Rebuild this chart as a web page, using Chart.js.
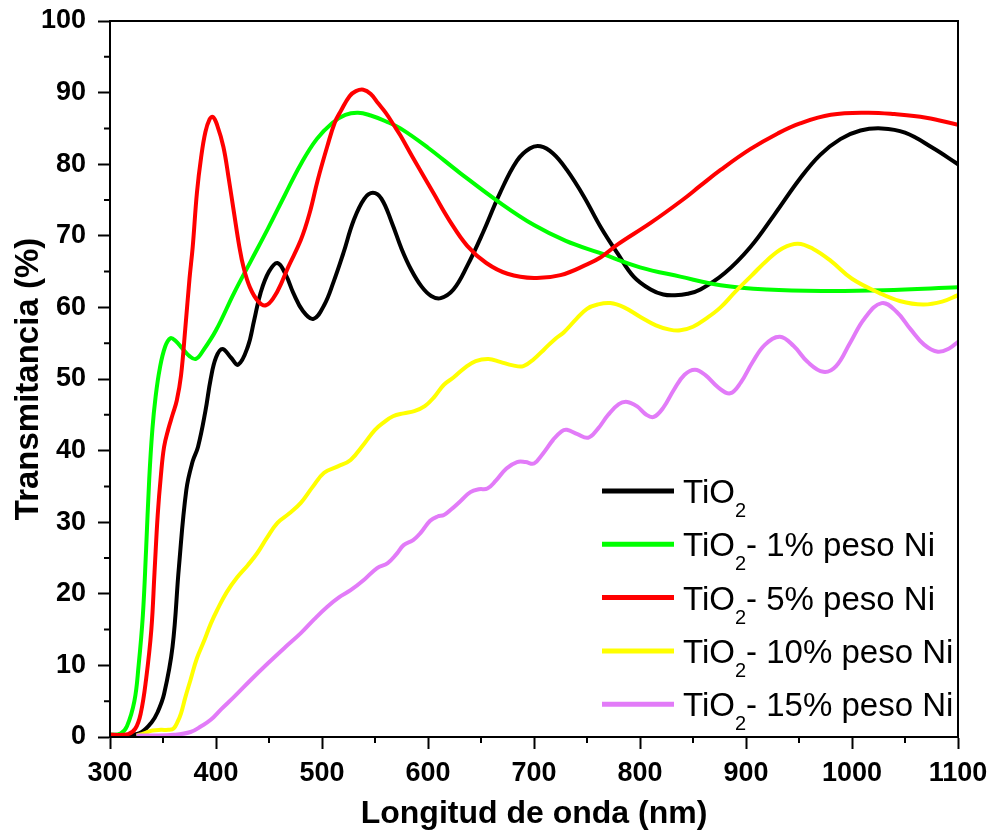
<!DOCTYPE html>
<html>
<head>
<meta charset="utf-8">
<script src="https://cdn.jsdelivr.net/npm/chart.js@4.4.1/dist/chart.umd.min.js"></script>
<style>
  body { margin: 0; background: #fff; }
  #wrap { width: 992px; height: 833px; }
</style>
</head>
<body>
<div id="wrap"><canvas id="chart" width="992" height="833"></canvas></div>
<script>
// wavelength (nm) and transmittance (%)
const tio2Nm = [300, 320, 330, 339, 345, 351, 359, 365, 372, 378, 383, 390, 395, 400, 406, 414, 421, 430, 436, 442, 450, 458, 466, 473, 482, 492, 502, 511, 520, 530, 540, 548, 556, 566, 575, 584, 594, 603, 612, 624, 637, 652, 668, 684, 696, 706, 718, 731, 747, 763, 779, 794, 810, 822, 833, 845, 857, 880, 904, 927, 951, 970, 989, 1008, 1028, 1050, 1076, 1100];
const tio2T = [0.3, 0.3, 0.7, 2, 3.5, 6, 12.6, 23.7, 34.5, 38.5, 40.5, 45.5, 50, 53, 54.2, 53, 52, 54.5, 58.2, 62, 65, 66.2, 64.5, 62, 59.5, 58.4, 60.3, 63.6, 67.5, 72.2, 75.2, 76, 75.2, 71.8, 68.2, 65.3, 62.9, 61.6, 61.3, 62.5, 65.8, 70.5, 76, 80.5, 82.2, 82.5, 81.5, 79.2, 75.5, 71.2, 67.5, 64.3, 62.5, 61.8, 61.7, 61.9, 62.5, 64.8, 68.4, 73, 78, 81.3, 83.5, 84.7, 85, 84.4, 82.3, 80];

const ni1Nm = [300, 310, 316, 323, 327, 331, 334, 337, 340, 343, 347, 352, 357, 362, 368, 375, 381, 388, 400, 417, 433, 449, 465, 480, 495, 510, 522, 534, 546, 560, 574, 600, 630, 668, 700, 730, 762, 800, 838, 876, 920, 973, 1030, 1100];
const ni1T = [0.3, 0.5, 1.5, 5, 10, 17, 26, 36, 43, 47.5, 51.5, 54.5, 55.7, 55.3, 54.3, 53.2, 52.8, 54, 56.8, 62, 66.5, 71, 75.7, 80, 83.5, 85.8, 86.9, 87.2, 86.8, 86, 85, 82.3, 78.8, 74.6, 71.5, 69.3, 67.6, 65.6, 64.3, 63.1, 62.5, 62.3, 62.4, 62.8];

const ni5Nm = [300, 317, 324, 329, 334, 339, 342, 345, 348, 351, 355, 359, 363, 367, 371, 375, 378, 382, 386, 390, 394, 397, 401, 407, 412, 417, 422, 426, 432, 440, 447, 455, 462, 468, 480, 488, 496, 505, 512, 518, 526, 532, 539, 546, 553, 560, 568, 574, 585, 594, 605, 620, 637, 655, 675, 700, 725, 750, 763, 779, 810, 840, 857, 876, 904, 930, 951, 980, 1014, 1040, 1070, 1100];
const ni5T = [0.3, 0.4, 1.2, 3.3, 8, 15, 23, 31, 36.5, 40.5, 43, 45, 47, 50.5, 57, 64, 68.4, 76, 81, 84.5, 86.3, 86.6, 85.5, 82.4, 78, 73.2, 68.5, 65.6, 62.8, 60.8, 60.3, 61.5, 63.5, 65.6, 69.4, 73, 77.8, 82.5, 85.8, 87.5, 89.5, 90.2, 90.4, 89.8, 88.5, 87.2, 85.4, 84, 81.1, 78.8, 76, 72.2, 68.6, 66.2, 64.7, 64.1, 64.5, 66, 67, 68.8, 71.8, 75, 77, 79.2, 82.1, 84.3, 85.7, 86.9, 87.2, 87, 86.5, 85.5];

const ni10Nm = [325, 332, 340, 348, 355, 360, 364, 367, 371, 376, 382, 389, 395, 401, 410, 420, 430, 439, 448, 458, 469, 480, 491, 502, 515, 527, 540, 550, 558, 567, 577, 587, 597, 606, 615, 624, 635, 645, 657, 668, 680, 690, 700, 710, 720, 728, 740, 750, 760, 772, 785, 800, 815, 828, 838, 850, 863, 876, 890, 905, 920, 935, 949, 963, 980, 1000, 1026, 1045, 1067, 1085, 1100];
const ni10T = [0.2, 0.5, 0.9, 1, 1, 1.2, 2.2, 3.3, 5.5, 8, 11, 13.5, 15.8, 17.7, 20.2, 22.3, 24, 25.7, 27.8, 29.9, 31.2, 32.7, 34.9, 36.9, 37.8, 38.7, 41, 42.9, 43.9, 44.8, 45.2, 45.5, 46.2, 47.5, 49.2, 50.2, 51.6, 52.5, 52.8, 52.4, 51.9, 51.8, 52.8, 54.2, 55.6, 56.5, 58.4, 59.8, 60.4, 60.6, 60, 58.7, 57.5, 56.9, 56.8, 57.3, 58.5, 60, 62.2, 64.4, 66.6, 68.3, 68.9, 68.2, 66.5, 64, 62, 60.9, 60.4, 60.8, 61.7];

const ni15Nm = [325, 340, 360, 376, 386, 395, 405, 417, 433, 449, 465, 480, 493, 505, 516, 527, 540, 552, 562, 570, 577, 586, 593, 602, 609, 615, 622, 631, 640, 648, 656, 664, 674, 684, 692, 700, 708, 718, 726, 731, 741, 751, 760, 770, 780, 788, 797, 806, 813, 822, 832, 842, 852, 862, 874, 885, 895, 906, 918, 932, 945, 958, 973, 985, 998, 1012, 1028, 1042, 1055, 1068, 1081, 1092, 1100];
const ni15T = [0.2, 0.2, 0.3, 0.7, 1.5, 2.4, 3.9, 5.6, 8, 10.3, 12.5, 14.5, 16.5, 18.2, 19.5, 20.5, 22, 23.6, 24.3, 25.5, 26.8, 27.5, 28.5, 30.2, 30.8, 31, 31.8, 33, 34.2, 34.6, 34.7, 35.8, 37.5, 38.4, 38.4, 38.2, 39.5, 41.5, 42.7, 42.9, 42.3, 41.8, 43, 45, 46.5, 46.8, 46.2, 45, 44.7, 46, 48.5, 50.6, 51.3, 50.5, 48.8, 48, 49.5, 52.3, 54.8, 55.9, 54.6, 52.4, 51, 51.8, 55, 58.5, 60.6, 59.4, 57, 54.8, 53.8, 54.3, 55.2];

const seriesNames = ['TiO2', 'TiO2- 1% peso Ni', 'TiO2- 5% peso Ni', 'TiO2- 10% peso Ni', 'TiO2- 15% peso Ni'];
const seriesColors = ['#000000', '#00ff00', '#ff0000', '#ffff00', '#e27bf8'];
const xTicks = [300, 400, 500, 600, 700, 800, 900, 1000, 1100];
const yTicks = [0, 10, 20, 30, 40, 50, 60, 70, 80, 90, 100];

const FONT = "'Liberation Sans', Arial, sans-serif";
Chart.defaults.font.family = FONT;
Chart.defaults.color = '#000';

function toPoints(xs, ys) {
  return xs.map((x, i) => ({ x: x, y: ys[i] }));
}

const allSeries = [[tio2Nm, tio2T], [ni1Nm, ni1T], [ni5Nm, ni5T], [ni10Nm, ni10T], [ni15Nm, ni15T]];

const datasets = allSeries.map((s, i) => ({
  label: seriesNames[i],
  data: toPoints(s[0], s[1]),
  borderColor: seriesColors[i],
  borderWidth: 4,
  pointRadius: 0,
  fill: false,
  tension: 0.4,
  order: allSeries.length - i
}));

// box round the plot, minor ticks and the legend with subscripts
const extras = {
  id: 'extras',
  afterDraw(chart) {
    const ctx = chart.ctx;
    const a = chart.chartArea;
    const xs = chart.scales.x, ys = chart.scales.y;
    ctx.save();
    ctx.strokeStyle = '#000';
    ctx.lineWidth = 2;
    ctx.strokeRect(a.left, a.top, a.right - a.left, a.bottom - a.top);

    ctx.beginPath();
    for (let v = 350; v < 1100; v += 100) {
      const px = xs.getPixelForValue(v);
      ctx.moveTo(px, a.bottom);
      ctx.lineTo(px, a.bottom + 6);
    }
    for (let v = 5; v < 100; v += 10) {
      const py = ys.getPixelForValue(v);
      ctx.moveTo(a.left, py);
      ctx.lineTo(a.left - 6, py);
    }
    ctx.stroke();

    // legend
    const lx = 602, ly = 491, gap = 53.3;
    chart.data.datasets.forEach((ds, i) => {
      const y = ly + i * gap;
      ctx.strokeStyle = ds.borderColor;
      ctx.lineWidth = 5;
      ctx.beginPath();
      ctx.moveTo(lx, y);
      ctx.lineTo(lx + 72, y);
      ctx.stroke();

      ctx.fillStyle = '#000';
      ctx.textBaseline = 'alphabetic';
      ctx.textAlign = 'left';
      let x = lx + 81;
      ctx.font = '33px ' + FONT;
      ctx.fillText('TiO', x, y + 12);
      x += ctx.measureText('TiO').width;
      ctx.font = '20px ' + FONT;
      ctx.fillText('2', x, y + 26);
      x += ctx.measureText('2').width;
      const rest = ds.label.slice(4);
      if (rest) {
        ctx.font = '33px ' + FONT;
        ctx.fillText(rest, x, y + 12);
      }
    });
    ctx.restore();
  }
};

new Chart(document.getElementById('chart'), {
  type: 'line',
  data: { datasets: datasets },
  options: {
    responsive: false,
    animation: false,
    layout: { padding: { top: 21, right: 34, left: 0, bottom: 0 } },
    plugins: { legend: { display: false }, tooltip: { enabled: false } },
    scales: {
      x: {
        type: 'linear',
        min: 300,
        max: 1100,
        afterFit: s => { s.height = 96; s.paddingLeft = 0; s.paddingRight = 0; },
        afterBuildTicks: s => { s.ticks = xTicks.map(v => ({ value: v })); },
        ticks: { font: { size: 27, weight: 'bold' }, padding: 8, maxRotation: 0, callback: v => String(v) },
        grid: { drawOnChartArea: false, tickLength: 12, tickWidth: 2, tickColor: '#000' },
        border: { color: '#000', width: 2 },
        title: { display: true, text: 'Longitud de onda (nm)', font: { size: 32, weight: 'bold' }, padding: { top: 4, bottom: 0 } }
      },
      y: {
        min: 0,
        max: 100,
        afterFit: s => { s.width = 110; s.paddingTop = 0; s.paddingBottom = 0; },
        afterBuildTicks: s => { s.ticks = yTicks.map(v => ({ value: v })); },
        ticks: { font: { size: 27, weight: 'bold' }, padding: 12, callback: v => String(v) },
        grid: { drawOnChartArea: false, tickLength: 12, tickWidth: 2, tickColor: '#000' },
        border: { color: '#000', width: 2 },
        title: { display: true, text: 'Transmitancia (%)', font: { size: 33, weight: 'bold' }, padding: { top: 9, bottom: 0 } }
      }
    }
  },
  plugins: [extras]
});
</script>
</body>
</html>
